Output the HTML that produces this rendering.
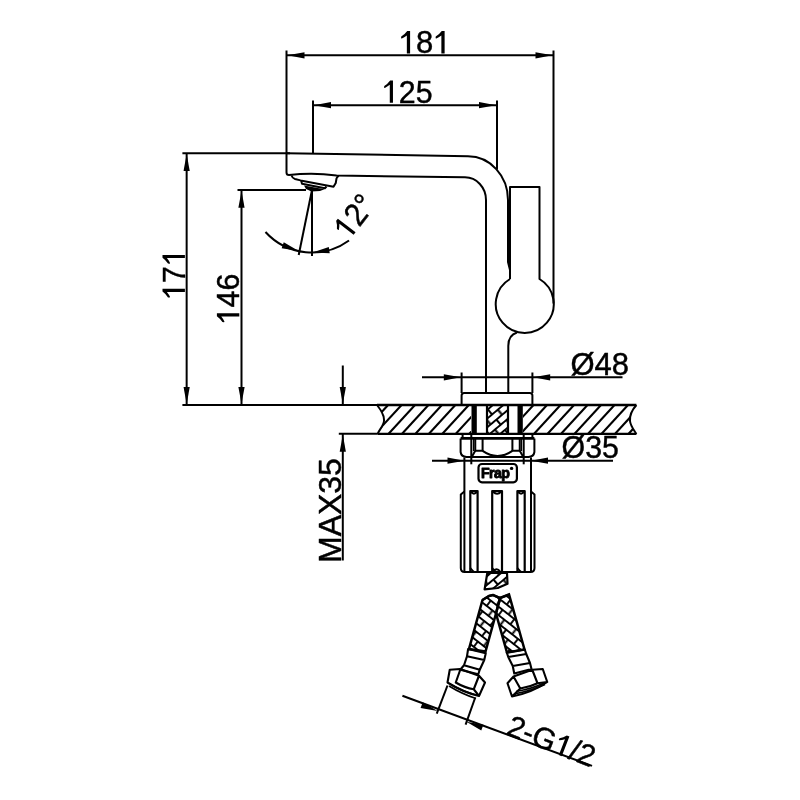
<!DOCTYPE html>
<html><head><meta charset="utf-8"><style>
html,body{margin:0;padding:0;background:#fff;width:800px;height:800px;overflow:hidden}
svg{display:block;will-change:transform}
svg text{font-family:"Liberation Sans",sans-serif;fill:#000;stroke:#000;stroke-width:0.45px}
line{stroke:#000}
.s{fill:none;stroke:#000;stroke-width:2.0}
.f{fill:#000;stroke:none}
</style></head><body>
<svg width="800" height="800" viewBox="0 0 800 800" stroke-linecap="butt" stroke-linejoin="round">
<line x1="286.50" y1="50.50" x2="286.50" y2="153.50" stroke-width="2.0"/>
<line x1="553.50" y1="50.50" x2="553.50" y2="303.50" stroke-width="2.0"/>
<line x1="286.50" y1="55.30" x2="553.50" y2="55.30" stroke-width="2.0"/>
<path class="f" d="M287.50,55.30 L304.50,52.20 L304.50,58.40 Z"/>
<path class="f" d="M552.50,55.30 L535.50,58.40 L535.50,52.20 Z"/>
<g transform="translate(398.80,53.40) rotate(0) scale(0.97,1.0)" font-size="32"><path class="f" transform="translate(0.00,0) scale(1.0000)" d="M8.3,0 L8.3,-18 Q5.5,-15.9 3.1,-14.9 Q2.3,-14.6 2.35,-15.6 L2.5,-16.9 Q6.2,-19.1 8.7,-22.4 L11.65,-22.4 L11.65,0 Z"/><text x="17.80" y="0">8</text><path class="f" transform="translate(35.59,0) scale(1.0000)" d="M8.3,0 L8.3,-18 Q5.5,-15.9 3.1,-14.9 Q2.3,-14.6 2.35,-15.6 L2.5,-16.9 Q6.2,-19.1 8.7,-22.4 L11.65,-22.4 L11.65,0 Z"/></g>
<line x1="313.00" y1="100.50" x2="313.00" y2="153.50" stroke-width="2.0"/>
<line x1="497.00" y1="100.50" x2="497.00" y2="169.50" stroke-width="2.0"/>
<line x1="313.00" y1="105.20" x2="497.00" y2="105.20" stroke-width="2.0"/>
<path class="f" d="M314.00,105.20 L331.00,102.10 L331.00,108.30 Z"/>
<path class="f" d="M496.00,105.20 L479.00,108.30 L479.00,102.10 Z"/>
<g transform="translate(381.90,102.80) rotate(0) scale(0.95,1.0)" font-size="32"><path class="f" transform="translate(0.00,0) scale(1.0000)" d="M8.3,0 L8.3,-18 Q5.5,-15.9 3.1,-14.9 Q2.3,-14.6 2.35,-15.6 L2.5,-16.9 Q6.2,-19.1 8.7,-22.4 L11.65,-22.4 L11.65,0 Z"/><text x="17.80" y="0">2</text><text x="35.59" y="0">5</text></g>
<line x1="182.40" y1="153.20" x2="290.00" y2="153.20" stroke-width="2.0"/>
<line x1="182.40" y1="405.00" x2="377.00" y2="405.00" stroke-width="2.0"/>
<line x1="186.65" y1="153.20" x2="186.65" y2="405.00" stroke-width="2.0"/>
<path class="f" d="M186.65,154.00 L189.75,171.00 L183.55,171.00 Z"/>
<path class="f" d="M186.65,404.00 L183.55,387.00 L189.75,387.00 Z"/>
<g transform="translate(184.90,299.80) rotate(-90) scale(0.95,1.0)" font-size="32"><path class="f" transform="translate(0.00,0) scale(1.0000)" d="M8.3,0 L8.3,-18 Q5.5,-15.9 3.1,-14.9 Q2.3,-14.6 2.35,-15.6 L2.5,-16.9 Q6.2,-19.1 8.7,-22.4 L11.65,-22.4 L11.65,0 Z"/><text x="17.80" y="0">7</text><path class="f" transform="translate(35.59,0) scale(1.0000)" d="M8.3,0 L8.3,-18 Q5.5,-15.9 3.1,-14.9 Q2.3,-14.6 2.35,-15.6 L2.5,-16.9 Q6.2,-19.1 8.7,-22.4 L11.65,-22.4 L11.65,0 Z"/></g>
<line x1="237.50" y1="189.90" x2="306.00" y2="189.90" stroke-width="2.0"/>
<line x1="241.50" y1="189.90" x2="241.50" y2="405.00" stroke-width="2.0"/>
<path class="f" d="M241.50,190.80 L244.60,207.80 L238.40,207.80 Z"/>
<path class="f" d="M241.50,404.00 L238.40,387.00 L244.60,387.00 Z"/>
<g transform="translate(239.30,324.40) rotate(-90) scale(0.95,1.0)" font-size="32"><path class="f" transform="translate(0.00,0) scale(1.0000)" d="M8.3,0 L8.3,-18 Q5.5,-15.9 3.1,-14.9 Q2.3,-14.6 2.35,-15.6 L2.5,-16.9 Q6.2,-19.1 8.7,-22.4 L11.65,-22.4 L11.65,0 Z"/><text x="17.80" y="0">4</text><text x="35.59" y="0">6</text></g>
<line x1="342.80" y1="365.50" x2="342.80" y2="405.00" stroke-width="2.0"/>
<path class="f" d="M342.80,404.00 L339.70,387.00 L345.90,387.00 Z"/>
<line x1="338.80" y1="433.80" x2="377.50" y2="433.80" stroke-width="2.0"/>
<line x1="342.80" y1="433.80" x2="342.80" y2="560.50" stroke-width="2.0"/>
<path class="f" d="M342.80,434.80 L345.90,451.80 L339.70,451.80 Z"/>
<g transform="translate(340.90,563.00) rotate(-90) scale(1.0,1.0)" font-size="32"><text x="0.00" y="0">M</text><text x="26.66" y="0">A</text><text x="48.00" y="0">X</text><text x="69.34" y="0">3</text><text x="87.14" y="0">5</text></g>
<line x1="461.60" y1="372.50" x2="461.60" y2="393.00" stroke-width="2.0"/>
<line x1="532.40" y1="372.50" x2="532.40" y2="393.00" stroke-width="2.0"/>
<line x1="422.00" y1="377.30" x2="622.50" y2="377.30" stroke-width="2.0"/>
<path class="f" d="M460.80,377.30 L443.80,380.40 L443.80,374.20 Z"/>
<path class="f" d="M533.20,377.30 L550.20,374.20 L550.20,380.40 Z"/>
<g transform="translate(570.40,375.20) rotate(0) scale(0.97,1.0)" font-size="32"><text x="0.00" y="0">Ø</text><text x="24.89" y="0">4</text><text x="42.69" y="0">8</text></g>
<line x1="432.00" y1="460.65" x2="613.00" y2="460.65" stroke-width="2.0"/>
<path class="f" d="M464.50,460.65 L447.50,463.75 L447.50,457.55 Z"/>
<path class="f" d="M531.00,460.65 L548.00,457.55 L548.00,463.75 Z"/>
<g transform="translate(561.50,458.30) rotate(0) scale(0.95,1.0)" font-size="32"><text x="0.00" y="0">Ø</text><text x="24.89" y="0">3</text><text x="42.69" y="0">5</text></g>
<path class="s" d="M265.48,231.98 A63,63 0 0 0 349.03,240.47"/>
<path class="f" d="M298.69,251.08 L281.65,248.19 L283.76,242.36 Z"/>
<path class="f" d="M312.44,252.50 L328.83,247.02 L329.71,253.16 Z"/>
<line x1="312.00" y1="190.00" x2="312.00" y2="256.00" stroke-width="2.0"/>
<line x1="312.00" y1="190.00" x2="298.70" y2="255.00" stroke-width="2.0"/>
<g transform="translate(348.80,241.10) rotate(-52.2) scale(0.95,1.0)" font-size="32"><path class="f" transform="translate(0.00,0) scale(1.0000)" d="M8.3,0 L8.3,-18 Q5.5,-15.9 3.1,-14.9 Q2.3,-14.6 2.35,-15.6 L2.5,-16.9 Q6.2,-19.1 8.7,-22.4 L11.65,-22.4 L11.65,0 Z"/><text x="17.80" y="0">2</text><text x="35.59" y="0">°</text></g>
<line x1="402.40" y1="695.75" x2="592.00" y2="765.90" stroke-width="2.0"/>
<line x1="447.50" y1="685.50" x2="436.75" y2="713.60" stroke-width="2.0"/>
<line x1="475.25" y1="697.50" x2="465.60" y2="724.60" stroke-width="2.0"/>
<path class="f" d="M437.60,711.10 L420.58,708.11 L422.73,702.29 Z"/>
<path class="f" d="M466.40,721.70 L483.42,724.69 L481.27,730.51 Z"/>
<g transform="translate(505.00,734.00) rotate(21.303942099498055) scale(1.0,1.0)" font-size="30"><text x="0.00" y="0">2</text><text x="16.68" y="0">-</text><text x="26.67" y="0">G</text><path class="f" transform="translate(50.01,0) scale(0.9375)" d="M8.3,0 L8.3,-18 Q5.5,-15.9 3.1,-14.9 Q2.3,-14.6 2.35,-15.6 L2.5,-16.9 Q6.2,-19.1 8.7,-22.4 L11.65,-22.4 L11.65,0 Z"/><text x="66.69" y="0">/</text><text x="75.03" y="0">2</text></g>
<path class="s" d="M286.5,153.2 L468,156.3 A40,43.7 0 0 1 508,200 L508,262 L510,270"/>
<path class="s" d="M286.5,153.2 L286.5,172.5 Q286.5,175.1 289,175.1 Q312.5,172.3 336.5,175.5 L465,177.3 A21,22.7 0 0 1 486,200 L486,393"/>
<path class="s" d="M291.5,175.5 Q292.5,178.3 295,179 L300.5,180.4 L333.5,186.75 L335.75,183 L336.5,178.5 Q337,176.5 339,176"/>
<path class="s" d="M301.25,181 L302,183.75 L324.9,188.25 L326.5,186.5"/>
<path class="f" d="M304,185.5 L324.5,189.3 L320,190.9 L311.5,191.4 L306,189 Z"/>
<path class="s" d="M510,279 L510,187 L539.5,187 L539.5,279 A29,29 0 1 1 510,279"/>
<path class="s" d="M517,332.5 Q508.3,335 508.3,346 L508.3,393"/>
<path class="s" d="M461.6,404.7 L461.6,395.5 Q461.6,393 464.1,393 L529.9,393 Q532.4,393 532.4,395.5 L532.4,404.7"/>
<line x1="377.00" y1="405.00" x2="636.40" y2="405.00" stroke-width="2.3"/>
<line x1="377.50" y1="433.90" x2="636.40" y2="433.90" stroke-width="2.3"/>
<path class="s" d="M377,405 C381,410 384.5,416 384,421 C383.5,426 379,430 377.6,434"/>
<path class="s" d="M636.4,405 C632,410 629.5,416 630,421 C630.5,426 634,430 636.4,434"/>
<clipPath id="dl"><path d="M377,405 C381,410 384.5,416 384,421 C383.5,426 379,430 377.6,434 L471,434 L471,405 Z"/></clipPath>
<clipPath id="dr"><path d="M636.4,405 C632,410 629.5,416 630,421 C630.5,426 634,430 636.4,434 L523,434 L523,405 Z"/></clipPath>
<g clip-path="url(#dl)" stroke-width="2.1"><line x1="361.20" y1="405" x2="334.60" y2="434"/><line x1="374.65" y1="405" x2="348.05" y2="434"/><line x1="388.10" y1="405" x2="361.50" y2="434"/><line x1="401.55" y1="405" x2="374.95" y2="434"/><line x1="415.00" y1="405" x2="388.40" y2="434"/><line x1="428.45" y1="405" x2="401.85" y2="434"/><line x1="441.90" y1="405" x2="415.30" y2="434"/><line x1="455.35" y1="405" x2="428.75" y2="434"/><line x1="468.80" y1="405" x2="442.20" y2="434"/><line x1="482.25" y1="405" x2="455.65" y2="434"/><line x1="495.70" y1="405" x2="469.10" y2="434"/></g>
<g clip-path="url(#dr)" stroke-width="2.1"><line x1="533.50" y1="405" x2="506.90" y2="434"/><line x1="547.00" y1="405" x2="520.40" y2="434"/><line x1="560.50" y1="405" x2="533.90" y2="434"/><line x1="574.00" y1="405" x2="547.40" y2="434"/><line x1="587.50" y1="405" x2="560.90" y2="434"/><line x1="601.00" y1="405" x2="574.40" y2="434"/><line x1="614.50" y1="405" x2="587.90" y2="434"/><line x1="628.00" y1="405" x2="601.40" y2="434"/><line x1="641.50" y1="405" x2="614.90" y2="434"/><line x1="655.00" y1="405" x2="628.40" y2="434"/><line x1="668.50" y1="405" x2="641.90" y2="434"/></g>
<rect class="f" x="471.5" y="405" width="5.3" height="29"/>
<rect class="f" x="517.5" y="405" width="5.3" height="29"/>
<line x1="487.00" y1="405.00" x2="487.00" y2="434.00" stroke-width="2.0"/>
<line x1="508.00" y1="405.00" x2="508.00" y2="434.00" stroke-width="2.0"/>
<defs><pattern id="brD" width="15" height="13.4" patternUnits="userSpaceOnUse" patternTransform="translate(487,410) rotate(-40)"><path d="M0,0 H15 M0,6.7 H15 M0,13.4 H15 M1,0 V6.7 M8.5,6.7 V13.4" stroke="#000" stroke-width="2.1" fill="none"/></pattern></defs>
<rect x="487" y="405" width="21" height="29" fill="url(#brD)"/>
<line x1="487.00" y1="405.00" x2="487.00" y2="434.00" stroke-width="2.2"/>
<line x1="508.00" y1="405.00" x2="508.00" y2="434.00" stroke-width="2.2"/>
<line x1="460.60" y1="438.40" x2="534.40" y2="438.40" stroke-width="2.8"/>
<line x1="462.60" y1="434.00" x2="462.60" y2="438.40" stroke-width="2.0"/>
<line x1="532.40" y1="434.00" x2="532.40" y2="438.40" stroke-width="2.0"/>
<path class="s" d="M460.6,438.4 L460.6,452 Q461.2,456.6 466.5,457 L528.5,457 Q533.8,456.6 534.4,452 L534.4,438.4"/>
<line x1="471.30" y1="434.00" x2="471.30" y2="464.30" stroke-width="2.0"/>
<line x1="523.70" y1="434.00" x2="523.70" y2="464.30" stroke-width="2.0"/>
<line x1="473.60" y1="439.00" x2="473.60" y2="451.00" stroke-width="1.4"/>
<line x1="521.40" y1="439.00" x2="521.40" y2="451.00" stroke-width="1.4"/>
<path class="s" d="M475.25,439 L475.25,450.8 L482.6,450.8 L482.6,439 M519.75,439 L519.75,450.8 L512.4,450.8 L512.4,439"/>
<path class="s" d="M475.25,450.8 L472,456.5 M519.75,450.8 L523,456.5 M482.6,450.8 Q497.5,461 512.4,450.8"/>
<path class="s" d="M464.4,457.5 L464.4,572 M531,457.5 L531,572"/>
<rect class="s" x="478.5" y="464" width="38.4" height="18.3" rx="3.5" style="stroke-width:2.2"/>
<text x="481" y="477.6" font-size="14.2" font-weight="bold" style="letter-spacing:-0.6px;stroke-width:0.9px">Frap</text>
<circle class="f" cx="511.6" cy="468.4" r="1.7"/>
<path class="s" d="M464.4,491.5 L460.8,494.5 L460.8,568 Q460.8,572 464.6,572 L530.5,572 Q534.5,572 534.5,568 L534.5,494.5 L531,491.5"/>
<path class="s" style="stroke-width:2.2" d="M470.3,572 L470.3,491 L477.6,491 L477.6,572 M471.3,491.5 Q473.95000000000005,496 476.6,491.5"/>
<path class="s" d="M470.3,568 Q473.3,572 475.3,572"/>
<path class="s" style="stroke-width:2.2" d="M492.2,572 L492.2,491 L502,491 L502,572 M493.2,491.5 Q497.1,496 501,491.5"/>
<path class="s" d="M492.2,568 Q495.2,572 497.2,572"/>
<path class="s" style="stroke-width:2.2" d="M517.4,572 L517.4,491 L524.7,491 L524.7,572 M518.4,491.5 Q521.05,496 523.7,491.5"/>
<path class="s" d="M517.4,568 Q520.4,572 522.4,572"/>
<defs><pattern id="brL" width="15" height="13.4" patternUnits="userSpaceOnUse" patternTransform="translate(490,600) rotate(38)"><path d="M0,0 H15 M0,6.7 H15 M0,13.4 H15 M1,0 V6.7 M8.5,6.7 V13.4" stroke="#000" stroke-width="1.9" fill="none"/></pattern></defs>
<path d="M487.3,573 L484.6,589.4 L497.75,588 L507.5,583.75 L507,573 Z" fill="url(#brD)" stroke="#000" stroke-width="2.2"/>
<path class="s" d="M492.5,572 Q496.5,566.5 500.5,572"/>
<path d="M482.5,600 L489,596 L493,595 L500,598 L496,613.5 L485.5,651.5 L469,649 Z" fill="url(#brL)" stroke="#000" stroke-width="2.5" stroke-linejoin="miter"/>
<path d="M500,598 L509,594.5 L524.5,649.5 L507,652.5 L496,613.5 Z" fill="url(#brL)" stroke="#000" stroke-width="2.5" stroke-linejoin="miter"/>
<path class="s" d="M482.5,600 L489,596 L493,595 L500,598 L509,594.5" style="stroke-width:2.2;stroke-linejoin:miter"/>
<path class="s" style="stroke-width:2.1" d="M468.1,649.1 L485.75,653.25 L484.25,660 L467,656.25 Z M467,656.25 L464,665.25 L479.75,669.75 L484.25,660 M464,665.25 L460.25,669.75 L478.25,674.25 L479.75,669.75"/>
<path class="s" style="stroke-width:2.1" d="M449.75,669.75 L460.25,669 L479,675.75 L485,682.5 L479,696 Q462.5,692 447.5,682.5 Z M460.25,669.75 L455.75,682.5 Q465,688 473.75,689.25 L479,675.75 M473.75,689.25 L479,696"/>
<path class="s" style="stroke-width:1.6" d="M449,686 Q462,694 476,698.5 M451,684.5 Q463,691.5 474.5,694.5"/>
<path class="s" style="stroke-width:2.1" d="M506.75,652.5 L524.75,649.5 L526.25,654 L508.25,657 Z M508.25,657 L512.75,666 L530,663 L526.25,654 M512.75,666 L514.25,673.5 L531.5,669 L530,663"/>
<path class="s" style="stroke-width:2.1" d="M507.5,683.25 L513.5,676.5 L532.25,669.75 L542.75,669 L547.25,682 Q531.5,693 512,696.5 Z M513.5,676.5 L520.25,688.5 Q530,687 537.5,683.25 L532.25,669.75 M520.25,688.5 L512,696.5 M537.5,683.25 L547.25,682"/>
<path class="s" style="stroke-width:1.6" d="M514,694 Q531,691 545,684.5 M516,691.5 Q531,689 543,683.5"/>
</svg></body></html>
